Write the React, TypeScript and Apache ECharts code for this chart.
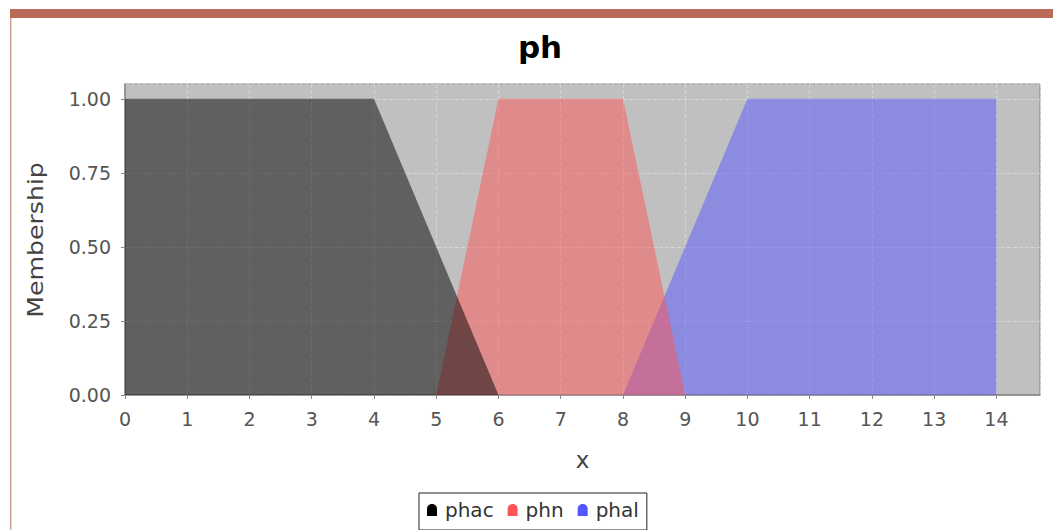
import React, { useEffect, useRef } from "react";
import * as echarts from "echarts";

const seriesNames = ["phac", "phn", "phal"];
const seriesColors = ["#000000", "#ff5555", "#5555ff"];
const phacPoints = [[0, 1], [4, 1], [6, 0]];
const phnPoints = [[5, 0], [6, 1], [8, 1], [9, 0]];
const phalPoints = [[8, 0], [10, 1], [14, 1], [14, 0]];
const allPoints = [phacPoints, phnPoints, phalPoints];

const FONT = "DejaVu Sans";

export default function App() {
  const ref = useRef<HTMLDivElement>(null);
  useEffect(() => {
    if (!ref.current) return;
    const chart = echarts.init(ref.current, undefined, { renderer: "svg" });
    const iconPath = "path://M0,12 L0,5 C0,-1.5 10,-1.5 10,5 L10,12 Z";
    chart.setOption({
      animation: false,
      backgroundColor: "#ffffff",
      title: {
        text: "ph",
        left: 535,
        top: 26,
        textAlign: "center",
        textStyle: { fontFamily: FONT, fontWeight: "bold", fontSize: 31, color: "#000" },
      },
      graphic: [
        { type: "rect", shape: { x: 10, y: 9, width: 1043, height: 9 }, style: { fill: "#bb6a58" } },
        { type: "rect", shape: { x: 10, y: 18, width: 1.5, height: 512 }, style: { fill: "#d2a395" } },
        {
          type: "text",
          x: 35,
          y: 240,
          rotation: Math.PI / 2,
          scaleX: 1.2,
          style: {
            text: "Membership",
            font: `21px '${FONT}'`,
            fill: "#444",
            textAlign: "center",
            textVerticalAlign: "middle",
          },
        },
      ],
      grid: {
        left: 125,
        right: 13,
        top: 84,
        bottom: 135,
        show: true,
        backgroundColor: "#c0c0c0",
        borderColor: "#888888",
        borderWidth: 1,
        containLabel: false,
      },
      legend: {
        left: 419,
        top: 493,
        orient: "horizontal",
        borderColor: "#222",
        borderWidth: 1,
        borderRadius: 0,
        padding: [7, 8, 10, 8],
        itemGap: 14,
        itemWidth: 10,
        itemHeight: 12,
        textStyle: { fontFamily: FONT, fontSize: 20, color: "#333", padding: [0, 0, 0, 3] },
        data: seriesNames.map((n, i) => ({
          name: n,
          icon: iconPath,
          itemStyle: { color: seriesColors[i], opacity: 1 },
        })),
      },
      xAxis: {
        type: "value",
        min: 0,
        max: 14.7,
        interval: 1,
        offset: 7,
        name: "x",
        nameLocation: "middle",
        nameGap: 46,
        nameTextStyle: { fontFamily: FONT, fontSize: 23, color: "#444" },
        axisLine: { show: true, lineStyle: { color: "#888", width: 1.5 } },
        axisTick: { show: true, length: 4, lineStyle: { color: "#888" } },
        axisLabel: {
          fontFamily: FONT,
          fontSize: 19,
          color: "#555",
          margin: 7,
          showMaxLabel: false,
          formatter: (v: number) => (Number.isInteger(v) ? String(v) : ""),
        },
        splitLine: { show: true, lineStyle: { color: "rgba(255,255,255,0.35)", type: "dashed", width: 1 } },
      },
      yAxis: {
        type: "value",
        min: 0,
        max: 1.05,
        interval: 0.25,
        offset: 8,
        axisLine: { show: true, lineStyle: { color: "#888", width: 1.5 } },
        axisTick: { show: true, length: 4, lineStyle: { color: "#888" } },
        axisLabel: {
          fontFamily: FONT,
          fontSize: 19,
          color: "#555",
          margin: 6,
          showMaxLabel: false,
          formatter: (v: number) => (v <= 1.0001 ? v.toFixed(2) : ""),
        },
        splitLine: { show: true, lineStyle: { color: "rgba(255,255,255,0.35)", type: "dashed", width: 1 } },
      },
      series: allPoints.map((pts, i) => ({
        name: seriesNames[i],
        type: "line",
        data: pts,
        z: 4 - i,
        showSymbol: false,
        symbol: "none",
        lineStyle: { width: 0 },
        itemStyle: { color: seriesColors[i] },
        areaStyle: { color: seriesColors[i], opacity: 0.5 },
      })),
    });
    return () => chart.dispose();
  }, []);
  return (
    <div
      ref={ref}
      style={{ position: "fixed", left: 0, top: 0, width: 1053, height: 530 }}
    />
  );
}
